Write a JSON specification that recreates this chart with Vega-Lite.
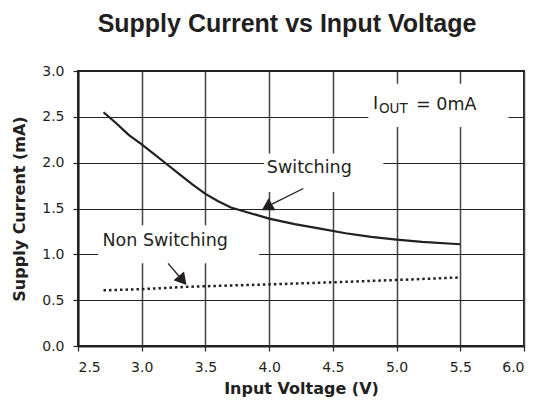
{
  "$schema": "https://vega.github.io/schema/vega-lite/v6.json",
  "width": 446,
  "height": 275,
  "autosize": "none",
  "padding": {"left": 78, "top": 71, "right": 15, "bottom": 54},
  "background": "white",
  "title": {
    "text": "Supply Current vs Input Voltage",
    "font": "Liberation Sans",
    "fontSize": 25,
    "fontWeight": "bold",
    "color": "#231f20",
    "anchor": "middle",
    "baseline": "alphabetic",
    "dx": -14,
    "offset": 7
  },
  "config": {
    "view": {"stroke": "#231f20", "strokeWidth": 2},
    "axis": {
      "labelFont": "DejaVu Sans",
      "labelFontSize": 14,
      "labelColor": "#231f20",
      "titleFont": "DejaVu Sans",
      "titleFontSize": 16,
      "titleFontWeight": "bold",
      "titleColor": "#231f20",
      "domainColor": "#231f20",
      "domainWidth": 2,
      "tickColor": "#231f20",
      "tickSize": 5,
      "tickWidth": 1.2,
      "gridOpacity": 1
    },
    "axisX": {"gridColor": "#444", "gridWidth": 1.5, "labelPadding": 9, "titlePadding": 6},
    "axisY": {"gridColor": "#222", "gridWidth": 1.2, "labelPadding": 9, "titlePadding": 14}
  },
  "datasets": {
    "switching": [
      {"V": 2.7, "I": 2.55}, {"V": 2.8, "I": 2.43}, {"V": 2.9, "I": 2.3},
      {"V": 3.0, "I": 2.2}, {"V": 3.1, "I": 2.09}, {"V": 3.2, "I": 1.98},
      {"V": 3.3, "I": 1.87}, {"V": 3.4, "I": 1.76}, {"V": 3.5, "I": 1.66},
      {"V": 3.6, "I": 1.58}, {"V": 3.7, "I": 1.51}, {"V": 3.8, "I": 1.47},
      {"V": 3.9, "I": 1.43}, {"V": 4.0, "I": 1.39}, {"V": 4.2, "I": 1.33},
      {"V": 4.4, "I": 1.28}, {"V": 4.6, "I": 1.23}, {"V": 4.8, "I": 1.19},
      {"V": 5.0, "I": 1.16}, {"V": 5.2, "I": 1.135}, {"V": 5.5, "I": 1.11}
    ],
    "nonswitching": [
      {"V": 2.7, "I": 0.607}, {"V": 3.0, "I": 0.62}, {"V": 3.35, "I": 0.645},
      {"V": 3.5, "I": 0.652}, {"V": 4.0, "I": 0.672}, {"V": 4.5, "I": 0.695},
      {"V": 5.0, "I": 0.72}, {"V": 5.5, "I": 0.748}
    ],
    "boxes": [
      {"V": 3.959, "V2": 4.896, "I": 1.68, "I2": 2.1},
      {"V": 2.657, "V2": 3.922, "I": 0.904, "I2": 1.318},
      {"V": 4.778, "V2": 5.878, "I": 2.389, "I2": 2.862}
    ],
    "labels": [
      {"V": 3.982, "I": 1.939, "label": "Switching"},
      {"V": 2.692, "I": 1.147, "label": "Non Switching"},
      {"V": 4.815, "I": 2.636, "label": "I"},
      {"V": 5.153, "I": 2.625, "label": "= 0mA"}
    ],
    "sublabels": [
      {"V": 4.862, "I": 2.582, "label": "OUT"}
    ],
    "arrows": [
      {"V": 4.268, "I": 1.718, "V2": 4.022, "I2": 1.547},
      {"V": 3.207, "I": 0.901, "V2": 3.291, "I2": 0.764}
    ],
    "head1": [{"V": 3.982, "I": 1.514}],
    "head2": [{"V": 3.321, "I": 0.715}]
  },
  "encoding": {
    "x": {
      "field": "V",
      "type": "quantitative",
      "title": "Input Voltage (V)",
      "scale": {"domain": [2.5, 6.0], "nice": false, "zero": false},
      "axis": {"values": [2.5, 3.0, 3.5, 4.0, 4.5, 5.0, 5.5, 6.0], "format": ".1f", "grid": true}
    },
    "y": {
      "field": "I",
      "type": "quantitative",
      "title": "Supply Current (mA)",
      "scale": {"domain": [0, 3.0], "nice": false},
      "axis": {"values": [0, 0.5, 1.0, 1.5, 2.0, 2.5, 3.0], "format": ".1f", "grid": true}
    }
  },
  "layer": [
    {
      "data": {"name": "switching"},
      "mark": {"type": "line", "color": "#231f20", "strokeWidth": 2.2}
    },
    {
      "data": {"name": "nonswitching"},
      "mark": {"type": "line", "color": "#231f20", "strokeWidth": 2.5, "strokeDash": [2.5, 3], "strokeCap": "butt"}
    },
    {
      "data": {"name": "boxes"},
      "mark": {"type": "rect", "fill": "white", "stroke": null},
      "encoding": {"x2": {"field": "V2"}, "y2": {"field": "I2"}}
    },
    {
      "data": {"name": "labels"},
      "mark": {"type": "text", "align": "left", "baseline": "middle", "font": "DejaVu Sans", "fontSize": 17.5, "color": "#231f20"},
      "encoding": {"text": {"field": "label"}}
    },
    {
      "data": {"name": "sublabels"},
      "mark": {"type": "text", "align": "left", "baseline": "middle", "font": "DejaVu Sans", "fontSize": 13.5, "color": "#231f20"},
      "encoding": {"text": {"field": "label"}}
    },
    {
      "data": {"name": "arrows"},
      "mark": {"type": "rule", "color": "#231f20", "strokeWidth": 1.3},
      "encoding": {"x2": {"field": "V2"}, "y2": {"field": "I2"}}
    },
    {
      "data": {"name": "head1"},
      "mark": {"type": "point", "shape": "triangle-up", "filled": true, "color": "#231f20", "opacity": 1, "size": 190, "angle": 240}
    },
    {
      "data": {"name": "head2"},
      "mark": {"type": "point", "shape": "triangle-up", "filled": true, "color": "#231f20", "opacity": 1, "size": 190, "angle": 140}
    }
  ]
}
